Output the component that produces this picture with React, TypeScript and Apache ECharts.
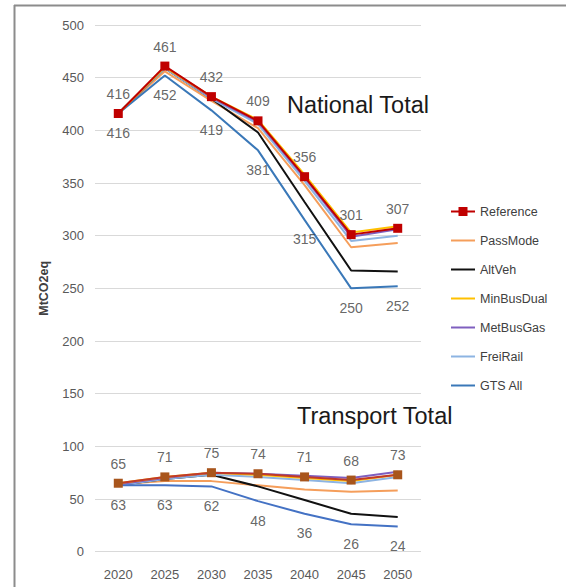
import React, { useEffect, useRef } from "react";
import * as echarts from "echarts";

const years = ["2020", "2025", "2030", "2035", "2040", "2045", "2050"];

// National totals
const natReference = [416, 461, 432, 409, 356, 301, 307];
const natPassMode = [416, 456, 428, 402, 348, 289, 293];
const natAltVeh = [416, 459, 430, 398, 332, 267, 266];
const natMinBusDual = [416, 460, 432, 410, 358, 303, 309];
const natMetBusGas = [416, 460, 431, 408, 355, 299, 306];
const natFreiRail = [416, 459, 430, 406, 352, 295, 300];
const natGtsAll = [416, 452, 419, 381, 315, 250, 252];

// Transport totals
const trReference = [65, 71, 75, 74, 71, 68, 73];
const trPassMode = [64, 67, 67, 63, 59, 57, 58];
const trAltVeh = [63, 69, 73, 62, 49, 36, 33];
const trMinBusDual = [65, 71, 75, 73, 70, 67, 73];
const trMetBusGas = [64, 70, 75, 74, 72, 70, 76];
const trFreiRail = [63, 69, 73, 71, 68, 65, 71];
const trGtsAll = [63, 63, 62, 48, 36, 26, 24];

const legendNames = ["Reference", "PassMode", "AltVeh", "MinBusDual", "MetBusGas", "FreiRail", "GTS All"];

const FONT = "Liberation Sans, Arial, sans-serif";

const LINE_ICON = "path://M0,0 H24 V2 H0 Z";
const REF_ICON = "path://M0,3.5 H7.5 V0 H16.5 V3.5 H24 V5.5 H16.5 V9 H7.5 V5.5 H0 Z";

export default function App() {
  const ref = useRef<HTMLDivElement>(null);
  useEffect(() => {
    if (!ref.current) return;
    const chart = echarts.init(ref.current, null, { renderer: "svg" });

    const line = (name: string, data: number[], color: string, z: number) => ({
      name,
      type: "line",
      data,
      symbol: "none",
      lineStyle: { color, width: 2 },
      itemStyle: { color },
      z,
    });

    const refLine = (data: number[], color: string, markerColor: string) => ({
      name: "Reference",
      type: "line",
      data,
      symbol: "rect",
      symbolSize: 9,
      showSymbol: true,
      lineStyle: { color, width: 2 },
      itemStyle: { color: markerColor },
      z: 10,
    });

    const labelSeries = (data: number[], pos: "top" | "bottom") => ({
      name: "lbl-" + pos,
      type: "scatter",
      data,
      symbol: "rect",
      symbolSize: 9,
      itemStyle: { color: "rgba(0,0,0,0)" },
      label: {
        show: true,
        position: pos,
        distance: 8,
        fontFamily: FONT,
        fontSize: 14,
        color: "#404040",
      },
      z: 20,
      silent: true,
    });

    chart.setOption({
      animation: false,
      textStyle: { fontFamily: FONT },
      grid: { left: 95, right: 145, top: 25, bottom: 35.3, containLabel: false },
      legend: {
        data: legendNames.map((n) => ({ name: n, icon: n === "Reference" ? REF_ICON : LINE_ICON })),
        orient: "vertical",
        left: 446,
        top: 200,
        itemWidth: 24,
        itemHeight: 14,
        itemGap: 16,
        textStyle: { fontFamily: FONT, fontSize: 12.5, color: "#404040" },
      },
      xAxis: {
        type: "category",
        data: years,
        boundaryGap: true,
        axisLine: { show: false },
        axisTick: { show: false },
        axisLabel: { fontFamily: FONT, fontSize: 13, color: "#595959", margin: 16 },
      },
      yAxis: {
        type: "value",
        min: 0,
        max: 500,
        interval: 50,
        name: "MtCO2eq",
        nameLocation: "middle",
        nameGap: 45,
        nameTextStyle: { fontFamily: FONT, fontSize: 12.5, fontWeight: "bold", color: "#404040" },
        axisLine: { show: false },
        axisTick: { show: false },
        axisLabel: { fontFamily: FONT, fontSize: 13, color: "#595959", margin: 11 },
        splitLine: { lineStyle: { color: "#D9D9D9", width: 1 } },
      },
      graphic: [
        { type: "line", shape: { x1: 14.5, y1: 5, x2: 14.5, y2: 587 }, style: { stroke: "#8C8C8C", lineWidth: 2 } },
        { type: "line", shape: { x1: 14, y1: 5.5, x2: 566, y2: 5.5 }, style: { stroke: "#8C8C8C", lineWidth: 2 } },
        {
          type: "text",
          left: 287,
          top: 93,
          style: { text: "National Total", fontFamily: FONT, fontSize: 23.5, fill: "#1a1a1a" },
        },
        {
          type: "text",
          left: 297,
          top: 404,
          style: { text: "Transport Total", fontFamily: FONT, fontSize: 23.5, fill: "#1a1a1a" },
        },
      ],
      series: [
        line("PassMode", natPassMode, "#F59E5B", 2),
        line("AltVeh", natAltVeh, "#111111", 3),
        line("FreiRail", natFreiRail, "#8DB4E2", 4),
        line("GTS All", natGtsAll, "#3A78B8", 5),
        line("MetBusGas", natMetBusGas, "#7F5FBF", 6),
        line("MinBusDual", natMinBusDual, "#FFC000", 7),
        refLine(natReference, "#C00000", "#C00000"),
        line("PassMode", trPassMode, "#F59E5B", 2),
        line("AltVeh", trAltVeh, "#111111", 3),
        line("FreiRail", trFreiRail, "#8DB4E2", 4),
        line("GTS All", trGtsAll, "#4472C4", 5),
        line("MetBusGas", trMetBusGas, "#7F5FBF", 6),
        line("MinBusDual", trMinBusDual, "#FFC000", 7),
        refLine(trReference, "#C0392B", "#A8551C"),
        labelSeries(natReference, "top"),
        labelSeries(natGtsAll, "bottom"),
        labelSeries(trReference, "top"),
        labelSeries(trGtsAll, "bottom"),
      ],
    });
    return () => chart.dispose();
  }, []);

  return (
    <div
      ref={ref}
      style={{ position: "fixed", left: 0, top: 0, width: 566, height: 587, background: "#fff" }}
    />
  );
}
